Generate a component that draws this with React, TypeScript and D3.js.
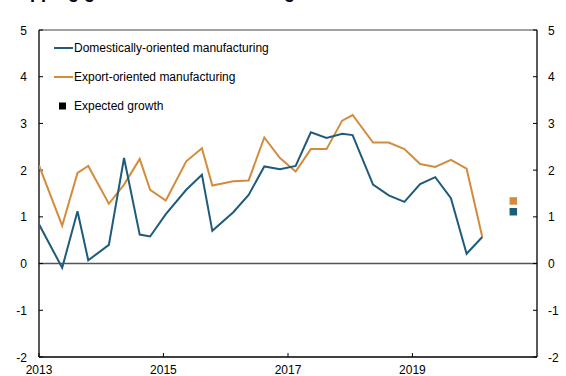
import React from "react";
import * as d3 from "d3";

const title = "Dropping growth in manufacturing";
const dates = ["2013-01-01","2013-05-17","2013-08-15","2013-10-17","2014-02-15","2014-05-15","2014-08-15","2014-10-15","2015-01-15","2015-05-15","2015-08-15","2015-10-15","2016-02-15","2016-05-15","2016-08-15","2016-11-15","2017-02-15","2017-05-15","2017-08-15","2017-11-15","2018-01-15","2018-05-15","2018-08-15","2018-11-15","2019-02-15","2019-05-15","2019-08-15","2019-11-15","2020-02-15"];
const domestic = [0.84,-0.09,1.12,0.07,0.40,2.26,0.62,0.58,1.06,1.58,1.90,0.70,1.10,1.47,2.08,2.02,2.09,2.81,2.69,2.78,2.75,1.69,1.46,1.32,1.70,1.85,1.40,0.21,0.57];
const exportOriented = [2.10,0.81,1.94,2.09,1.28,1.69,2.24,1.58,1.35,2.19,2.47,1.67,1.76,1.78,2.70,2.26,1.97,2.45,2.45,3.06,3.18,2.59,2.59,2.45,2.13,2.07,2.22,2.03,0.57];
const expectedDate = "2020-08-15";
const expectedExport = 1.34;
const expectedDomestic = 1.11;
const yTicks = [-2,-1,0,1,2,3,4,5];
const xTickYears = [2013,2015,2017,2019];
const legendLabels = ["Domestically-oriented manufacturing","Export-oriented manufacturing","Expected growth"];

const BLUE = "#1f5b7b";
const ORANGE = "#d38c3e";
const FONT = "'Liberation Sans', Arial, sans-serif";

export default function App() {
  const W = 566, H = 376;
  const left = 39, right = 537, top = 30, bottom = 357;
  const x = d3.scaleTime().domain([new Date(2013,0,1), new Date(2021,0,1)]).range([left, right]);
  const y = d3.scaleLinear().domain([-2, 5]).range([bottom, top]);
  const parse = (s: string) => { const [a,b,c] = s.split("-").map(Number); return new Date(a, b-1, c); };
  const line = d3.line<[Date, number]>().x(d => x(d[0])).y(d => y(d[1]));
  const dd = dates.map(parse);
  const domPath = line(dd.map((d,i) => [d, domestic[i]] as [Date, number])) || "";
  const expPath = line(dd.map((d,i) => [d, exportOriented[i]] as [Date, number])) || "";
  const ex = x(parse(expectedDate));
  const sq = 7.5;
  return (
    <svg width={W} height={H} style={{position:"fixed", left:0, top:0, background:"#fff"}} fontFamily={FONT}>
      <text x={-1} y={-2.5} fontSize={18} fontWeight="bold" fill="#000">{title}</text>
      <defs>
        <clipPath id="plot"><rect x={left} y={top} width={right-left} height={bottom-top} /></clipPath>
      </defs>
      {/* zero line */}
      <line x1={left} x2={right} y1={y(0)} y2={y(0)} stroke="#555" strokeWidth={1.5} />
      {/* frame */}
      <line x1={left} x2={right} y1={top} y2={top} stroke="#444" strokeWidth={1} />
      <line x1={left} x2={right} y1={bottom} y2={bottom} stroke="#000" strokeWidth={1.3} />
      <line x1={left} x2={left} y1={top} y2={bottom} stroke="#000" strokeWidth={1.3} />
      <line x1={right} x2={right} y1={top} y2={bottom} stroke="#000" strokeWidth={1.3} />
      {yTicks.map(t => (
        <g key={t}>
          <line x1={left} x2={left+4} y1={y(t)} y2={y(t)} stroke="#000" />
          <line x1={right-4} x2={right} y1={y(t)} y2={y(t)} stroke="#000" />
          <text x={27} y={y(t)+4.5} fontSize={12} textAnchor="end" fill="#000">{t}</text>
          <text x={548} y={y(t)+4.5} fontSize={12} textAnchor="start" fill="#000">{t}</text>
        </g>
      ))}
      {xTickYears.map(yr => (
        <g key={yr}>
          <line x1={x(new Date(yr,0,1))} x2={x(new Date(yr,0,1))} y1={bottom} y2={bottom-4} stroke="#000" />
          <text x={x(new Date(yr,0,1))} y={374} fontSize={12} textAnchor="middle" fill="#000">{yr}</text>
        </g>
      ))}
      <g clipPath="url(#plot)">
        <path d={expPath} fill="none" stroke={ORANGE} strokeWidth={2} strokeLinejoin="miter" />
        <path d={domPath} fill="none" stroke={BLUE} strokeWidth={2} strokeLinejoin="miter" />
      </g>
      <rect x={ex-sq/2} y={y(expectedExport)-sq/2} width={sq} height={sq} fill={ORANGE} />
      <rect x={ex-sq/2} y={y(expectedDomestic)-sq/2} width={sq} height={sq} fill={BLUE} />
      {/* legend */}
      <line x1={54} x2={73} y1={48} y2={48} stroke={BLUE} strokeWidth={2} />
      <text x={74} y={52} fontSize={12} fill="#000">{legendLabels[0]}</text>
      <line x1={54} x2={73} y1={77} y2={77} stroke={ORANGE} strokeWidth={2} />
      <text x={74} y={81} fontSize={12} fill="#000">{legendLabels[1]}</text>
      <rect x={59} y={102.5} width={7} height={7} fill="#000" />
      <text x={74} y={110} fontSize={12} fill="#000">{legendLabels[2]}</text>
    </svg>
  );
}
